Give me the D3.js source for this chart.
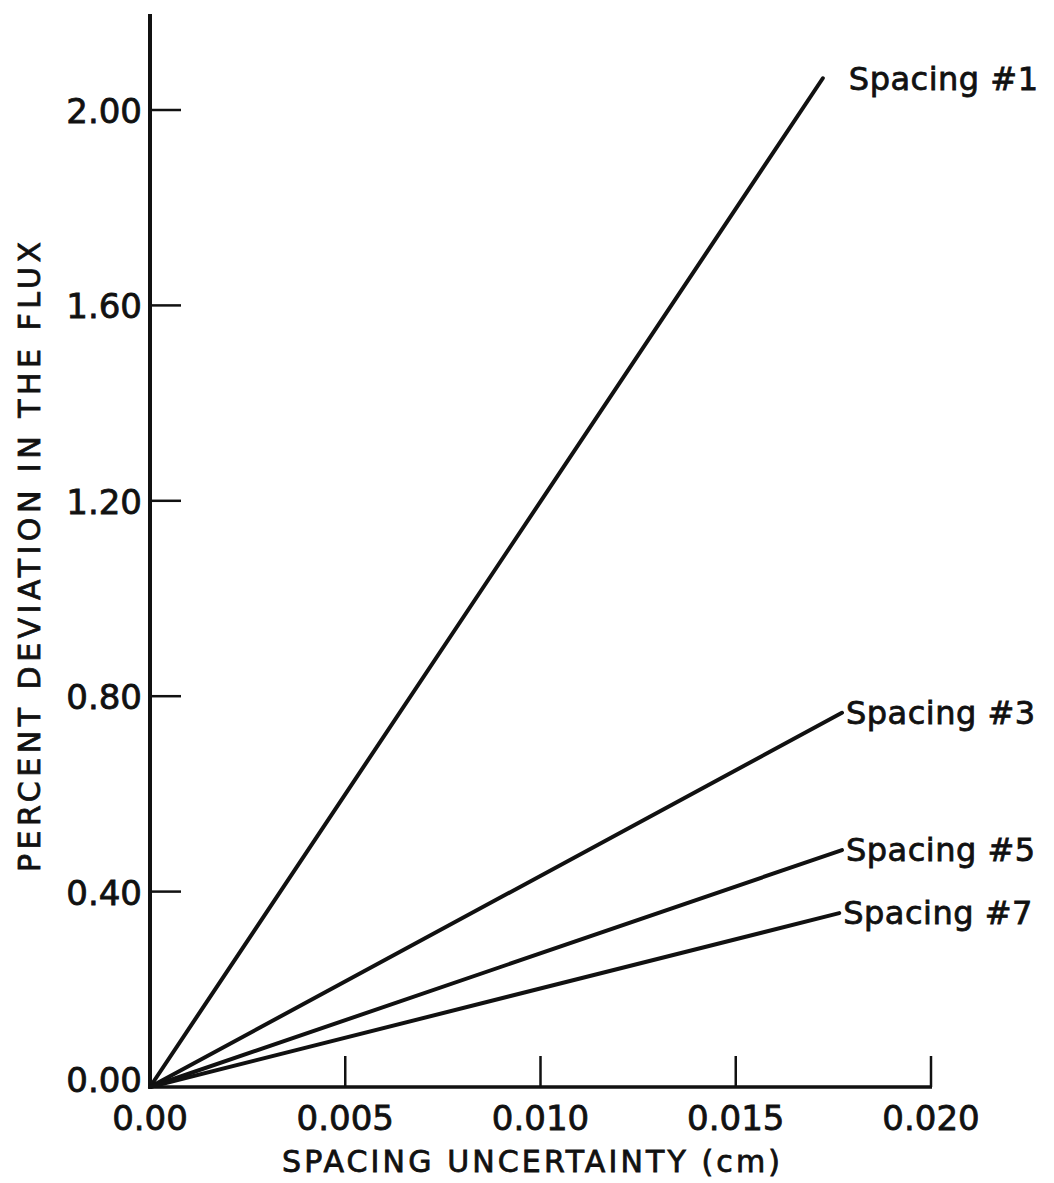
<!DOCTYPE html>
<html lang="en">
<head>
  <meta charset="UTF-8">
  <title>Spacing uncertainty</title>
  <style>
    body { margin: 0; background: #fff; }
    svg { font-family: 'DejaVu Sans', sans-serif; }
    svg text { fill: #111; stroke: #111; stroke-width: 0.8px; }
    .tick-label { font-size: 34px; }
    .axis-title { font-size: 30px; }
    .series-label { font-size: 32px; letter-spacing: 0.5px; }
  </style>
</head>
<body>
  <svg width="1054" height="1183"></svg>

  <script src="https://d3js.org/d3.v7.min.js"></script>
  <script>
    // series: name + end point (x in cm, y in percent), all start at origin
    var seriesNames = ['Spacing #1', 'Spacing #3', 'Spacing #5', 'Spacing #7'];
    var endX = [0.01723, 0.01772, 0.01772, 0.01765];
    var endY = [2.065, 0.766, 0.485, 0.356];

    var xTicks = [0, 0.005, 0.010, 0.015, 0.020];
    var xTickLabels = ['0.00', '0.005', '0.010', '0.015', '0.020'];
    var yTicks = [0, 0.4, 0.8, 1.2, 1.6, 2.0];
    var yTickLabels = ['0.00', '0.40', '0.80', '1.20', '1.60', '2.00'];

    var svg = d3.select('svg');

    var x = d3.scaleLinear().domain([0, 0.020]).range([150, 931]);
    var y = d3.scaleLinear().domain([0, 2.0]).range([1087, 110]);

    // y axis: long line, ticks point inward (right)
    svg.append('line')
      .attr('x1', x(0)).attr('x2', x(0))
      .attr('y1', 14).attr('y2', y(0) + 1.5)
      .attr('stroke', '#111').attr('stroke-width', 4);

    svg.selectAll('.ytick').data(yTicks.slice(1)).enter()
      .append('line')
      .attr('x1', x(0)).attr('x2', x(0) + 31)
      .attr('y1', d => y(d)).attr('y2', d => y(d))
      .attr('stroke', '#111').attr('stroke-width', 2.5);

    svg.selectAll('.ylab').data(yTicks).enter()
      .append('text')
      .attr('class', 'tick-label')
      .attr('x', x(0) - 8)
      .attr('y', d => d === 0 ? y(d) + 5 : y(d) + 13)
      .attr('text-anchor', 'end')
      .text((d, i) => yTickLabels[i]);

    // x axis: ticks point up
    svg.append('line')
      .attr('x1', x(0)).attr('x2', x(0.020) + 1)
      .attr('y1', y(0)).attr('y2', y(0))
      .attr('stroke', '#111').attr('stroke-width', 3.5);

    svg.selectAll('.xtick').data(xTicks.slice(1)).enter()
      .append('line')
      .attr('x1', d => x(d)).attr('x2', d => x(d))
      .attr('y1', y(0)).attr('y2', y(0) - 31)
      .attr('stroke', '#111').attr('stroke-width', 2.5);

    svg.selectAll('.xlab').data(xTicks).enter()
      .append('text')
      .attr('class', 'tick-label')
      .attr('x', d => x(d))
      .attr('y', y(0) + 43)
      .attr('text-anchor', 'middle')
      .text((d, i) => xTickLabels[i]);

    // axis titles
    svg.append('text')
      .attr('class', 'axis-title')
      .attr('x', 531).attr('y', 1172)
      .attr('text-anchor', 'middle')
      .attr('textLength', 498)
      .text('SPACING  UNCERTAINTY (cm)');

    svg.append('text')
      .attr('class', 'axis-title')
      .attr('transform', 'translate(40,557) rotate(-90)')
      .attr('text-anchor', 'middle')
      .attr('textLength', 630)
      .text('PERCENT  DEVIATION  IN  THE  FLUX');

    // series lines
    var line = d3.line().x(d => x(d[0])).y(d => y(d[1]));

    svg.selectAll('.series').data(seriesNames).enter()
      .append('path')
      .attr('d', (d, i) => line([[0, 0], [endX[i], endY[i]]]))
      .attr('fill', 'none')
      .attr('stroke', '#111')
      .attr('stroke-width', 4)
      .attr('stroke-linecap', 'round');

    svg.selectAll('.slab').data(seriesNames).enter()
      .append('text')
      .attr('class', 'series-label')
      .attr('x', (d, i) => x(endX[i]) + (i === 0 ? 26 : 4))
      .attr('y', (d, i) => y(endY[i]) + (i === 0 ? 12 : 11))
      .text(d => d);
  </script>
</body>
</html>
